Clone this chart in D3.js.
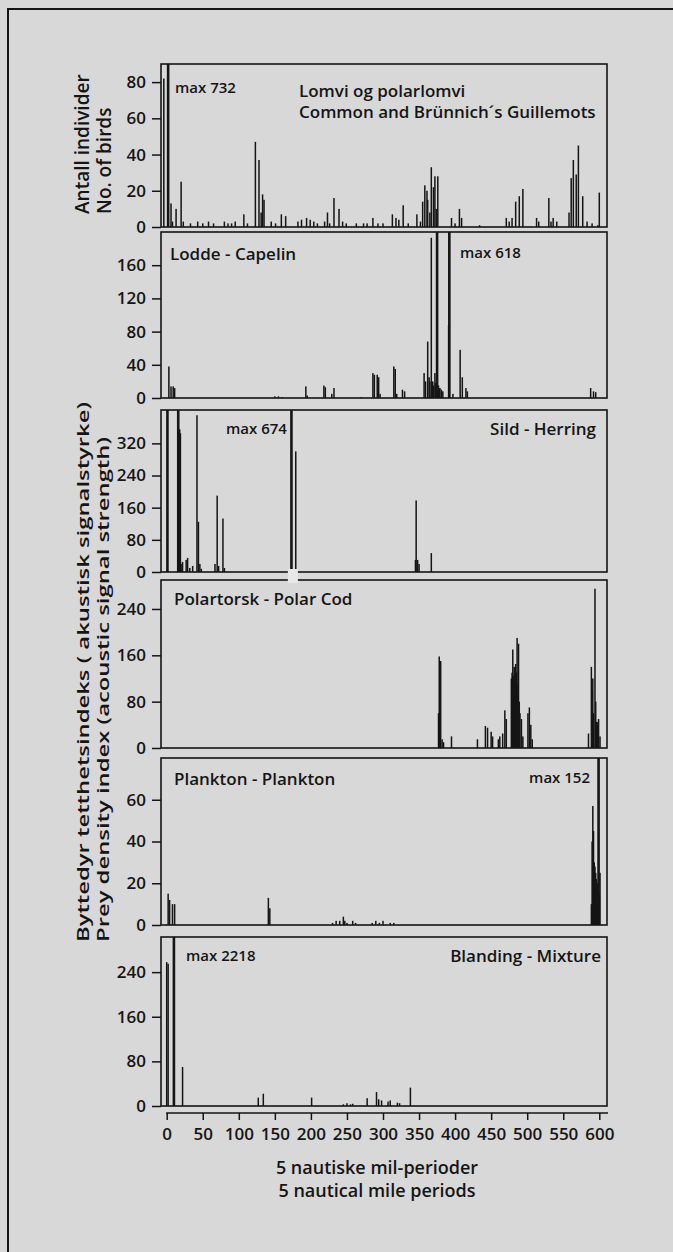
<!DOCTYPE html>
<html><head><meta charset="utf-8">
<script src="https://cdn.jsdelivr.net/npm/d3@7"></script>
<style>
body{margin:0;background:#d8d8d8;}
svg{display:block;}
text{font-family:"Open Sans","Noto Sans",sans-serif;fill:#151515;font-weight:600;}
</style>
</head><body>
<svg id="c" width="673" height="1252"></svg>
<script>
// ---------------- data ----------------
const xTicks = [0,50,100,150,200,250,300,350,400,450,500,550,600];

const birdTicks     = [0,20,40,60,80];
const capelinTicks  = [0,40,80,120,160];
const herringTicks  = [0,80,160,240,320];
const codTicks      = [0,80,160,240];
const planktonTicks = [0,20,40,60];
const mixtureTicks  = [0,80,160,240];

const yMaxes = [90,200,403,290,80,303];

// [period, value]
const guillemots = [[-4,82],[2,732],[6,13],[8,3],[13,10],[20,25],[23,3],[33,2],[43,3],[50,2],[58,3],[65,2],[80,3],[85,2],[90,2],[95,3],[107,7],[112,2],[123,47],[128,37],[131,8],[133,18],[135,15],[145,3],[151,2],[159,7],[165,6],[182,3],[187,4],[194,5],[199,4],[204,3],[209,2],[219,3],[223,8],[226,2],[232,16],[239,10],[244,3],[249,2],[263,2],[273,2],[278,2],[286,5],[293,2],[300,2],[313,7],[318,5],[322,4],[328,12],[335,2],[347,7],[352,3],[355,14],[358,23],[361,20],[362,15],[365,8],[367,33],[370,22],[372,28],[374,10],[376,28],[395,5],[400,2],[406,10],[409,5],[434,1],[471,5],[475,3],[479,5],[484,14],[489,17],[494,21],[513,5],[516,3],[530,16],[533,3],[536,5],[541,3],[558,8],[561,27],[564,37],[568,29],[571,45],[577,17],[583,3],[590,2],[598,1],[600,19]];

const capelin = [[3,38],[6,14],[9,14],[11,12],[150,2],[155,2],[160,1],[193,14],[195,3],[218,15],[220,13],[229,5],[232,12],[270,1],[286,30],[288,28],[292,28],[294,25],[296,5],[315,38],[317,35],[319,5],[327,10],[330,8],[357,30],[359,20],[362,68],[364,25],[365,20],[367,193],[369,20],[370,15],[372,30],[373,18],[375,250],[377,15],[378,12],[379,12],[381,10],[383,8],[391,88],[392,618],[397,5],[407,58],[410,25],[415,12],[417,8],[588,12],[592,8],[595,7]];

const herring = [[1,410],[16,410],[18,355],[19,345],[20,20],[22,25],[27,30],[29,35],[32,10],[36,15],[42,390],[44,125],[46,20],[48,8],[67,20],[70,190],[72,15],[78,133],[80,10],[173,674],[179,300],[345,30],[346,178],[348,30],[350,20],[367,47]];

const polarCod = [[377,60],[378,158],[379,150],[380,150],[382,15],[384,10],[395,20],[431,15],[442,38],[445,35],[450,28],[452,20],[460,15],[462,20],[466,25],[469,65],[471,50],[478,120],[479,130],[480,170],[481,125],[482,140],[483,100],[484,145],[485,130],[486,190],[487,110],[488,180],[489,80],[490,60],[492,50],[494,20],[501,60],[503,70],[505,40],[507,15],[585,25],[589,140],[590,100],[591,120],[592,60],[594,275],[595,80],[596,45],[597,40],[598,45],[599,50],[601,20]];

const plankton = [[2,15],[4,12],[8,10],[11,10],[141,13],[143,8],[230,1],[235,2],[240,2],[245,4],[247,2],[250,1],[258,2],[262,1],[285,1],[290,2],[295,1],[300,2],[310,1],[315,1],[589,10],[590,40],[591,57],[592,45],[593,30],[594,28],[595,25],[596,22],[597,20],[598,18],[599,152],[600,15],[601,25]];

const mixture = [[0,258],[2,255],[10,2218],[22,70],[127,15],[134,22],[201,15],[245,3],[250,5],[255,3],[258,4],[278,14],[291,25],[294,12],[298,10],[307,8],[310,10],[320,6],[323,5],[338,33]];

const seriesList = [guillemots, capelin, herring, polarCod, plankton, mixture];
const tickList = [birdTicks, capelinTicks, herringTicks, codTicks, planktonTicks, mixtureTicks];

// ---------------- layout ----------------
const svg = d3.select("#c");
const boxL = 161, boxR = 607;
const panelTop = [64,232,410,580,758,937];
const panelBot = [227,398,572,748,925,1106];
const x = d3.scaleLinear().domain([0,600]).range([166.7,599.3]);
const ink = "#151515";

// outer frame
svg.append("path").attr("d","M8,1252V9H673").attr("fill","none").attr("stroke",ink).attr("stroke-width",2);

seriesList.forEach((data,i)=>{
  const g = svg.append("g");
  const y = d3.scaleLinear().domain([0,yMaxes[i]]).range([panelBot[i],panelTop[i]]).clamp(true);
  g.selectAll("rect.bar").data(data).join("rect")
    .attr("class","bar")
    .attr("x",d=> x(d[0]) - (d[1]>yMaxes[i]?1.3:0.75))
    .attr("width",d=> d[1]>yMaxes[i]?2.6:1.5)
    .attr("y",d=>y(d[1]))
    .attr("height",d=>panelBot[i]-y(d[1]))
    .attr("fill",ink);
  g.append("rect").attr("x",boxL).attr("y",panelTop[i]).attr("width",boxR-boxL).attr("height",panelBot[i]-panelTop[i])
    .attr("fill","none").attr("stroke",ink).attr("stroke-width",1.6);
  const ax = g.append("g").attr("transform",`translate(${boxL},0)`)
    .call(d3.axisLeft(y).tickValues(tickList[i]).tickSize(9).tickPadding(6).tickFormat(d3.format("d")));
  ax.select(".domain").remove();
  ax.selectAll("line").attr("stroke",ink).attr("stroke-width",1.5);
  ax.selectAll("text").attr("font-size",17).attr("font-family","Open Sans").attr("font-weight",600).attr("fill",ink);
});

// break mark on herring max bar baseline
svg.append("rect").attr("x",x(175)-5).attr("y",569).attr("width",10).attr("height",14).attr("fill","#e8e8e8");

// bottom axis
const bx = svg.append("g").attr("transform","translate(0,1113)")
  .call(d3.axisBottom(x).tickValues(xTicks).tickSize(7).tickPadding(8).tickFormat(d3.format("d")));
bx.select(".domain").remove();
bx.selectAll("line").attr("stroke",ink).attr("stroke-width",1.5);
bx.selectAll("text").attr("font-size",17).attr("font-family","Open Sans").attr("font-weight",600).attr("fill",ink);
svg.append("line").attr("x1",x(0)-0.5).attr("x2",boxR+1).attr("y1",1113).attr("y2",1113).attr("stroke",ink).attr("stroke-width",1.6);

// panel labels
const lab = (t,xx,yy,anchor,size)=>svg.append("text").attr("x",xx).attr("y",yy).attr("text-anchor",anchor||"start")
  .attr("dominant-baseline","central").attr("font-size",size||17).text(t);
lab("max 732",175,87,"start",15);
lab("Lomvi og polarlomvi",299,90);
lab("Common and Brünnich´s Guillemots",299,111);
lab("Lodde - Capelin",170,253);
lab("max 618",460,252,"start",15);
lab("max 674",226,428,"start",15);
lab("Sild - Herring",596,428,"end");
lab("Polartorsk - Polar Cod",174,598);
lab("Plankton - Plankton",174,778);
lab("max 152",590,777,"end",15);
lab("max 2218",186,955,"start",15);
lab("Blanding - Mixture",601,955,"end");

// axis titles
lab("5 nautiske mil-perioder",377,1167,"middle",18);
lab("5 nautical mile periods",377,1190,"middle",18);
const vlab=(t,xx,yy,size,len)=>{
  const tt = svg.append("text").attr("transform",`translate(${xx},${yy}) rotate(-90)`)
    .attr("text-anchor","start").attr("dominant-baseline","central").attr("font-size",size).text(t);
  if(len) tt.attr("textLength",len).attr("lengthAdjust","spacingAndGlyphs");
};
vlab("Antall individer",82,214,19);
vlab("No. of birds",104,214,19);
vlab("Byttedyr tetthetsindeks ( akustisk signalstyrke)",82,942,17,540);
vlab("Prey density index (acoustic signal strength)",102,942,17,505);
</script>
</body></html>
